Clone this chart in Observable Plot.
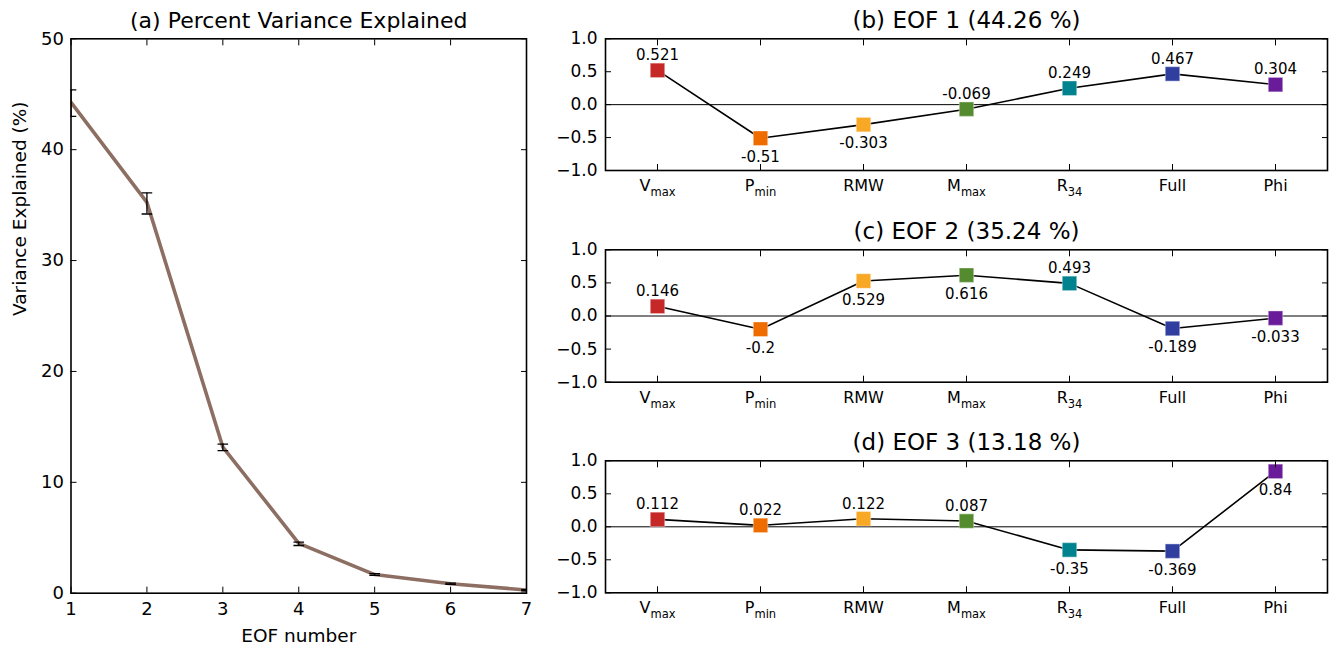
<!DOCTYPE html>
<html><head><meta charset="utf-8">
<script src="https://cdn.jsdelivr.net/npm/d3@7"></script>
<script src="https://cdn.jsdelivr.net/npm/@observablehq/plot@0.6"></script>
<style>
html,body{margin:0;padding:0;background:#fff;}
#root{position:relative;width:1332px;height:646px;overflow:hidden;font-family:"DejaVu Sans",sans-serif;}
#root > div{position:absolute;}
</style></head><body><div id="root"></div>
<script>
// ---- data ----
const eofNumbers = [1, 2, 3, 4, 5, 6, 7];
const varianceExplained = [44.26, 35.24, 13.18, 4.5, 1.68, 0.85, 0.29];
const varianceLow = [43.0, 34.2, 12.85, 4.3, 1.6, 0.8, 0.22];
const varianceHigh = [45.4, 36.1, 13.45, 4.6, 1.76, 0.9, 0.33];

const variables = ["V_max", "P_min", "RMW", "M_max", "R_34", "Full", "Phi"];
const eof1Loadings = [0.521, -0.51, -0.303, -0.069, 0.249, 0.467, 0.304];
const eof2Loadings = [0.146, -0.2, 0.529, 0.616, 0.493, -0.189, -0.033];
const eof3Loadings = [0.112, 0.022, 0.122, 0.087, -0.35, -0.369, 0.84];
const eof1LabelSide = ["above", "below", "below", "above", "above", "above", "above"];
const eof2LabelSide = ["above", "below", "below", "below", "above", "below", "below"];
const eof3LabelSide = ["above", "above", "above", "above", "below", "below", "below"];

const panelTitles = ["(a) Percent Variance Explained", "(b) EOF 1 (44.26 %)", "(c) EOF 2 (35.24 %)", "(d) EOF 3 (13.18 %)"];
const axisLabelsA = ["EOF number", "Variance Explained (%)"];
const yTicksA = [0, 10, 20, 30, 40, 50];
const yTicksLoad = [-1, -0.5, 0, 0.5, 1];

// ---- styles ----
const palette = ["#c62828", "#ef6c00", "#f9a825", "#558b2f", "#00838f", "#303f9f", "#6a1b9a"];
const lineBrown = "#8d6e63";
const FONT = "DejaVu Sans";

const root = document.getElementById("root");
function place(node, left, top) {
  const d = document.createElement("div");
  d.style.left = left + "px"; d.style.top = top + "px";
  d.appendChild(node); root.appendChild(d);
}

// ---- panel (a) ----
const varData = eofNumbers.map((n, i) => ({n, v: varianceExplained[i], lo: varianceLow[i], hi: varianceHigh[i]}));
const capData = varData.flatMap(d => [{n: d.n, e: d.lo}, {n: d.n, e: d.hi}]);
const capSymbol = {draw(ctx, size) { const w = Math.sqrt(size); ctx.moveTo(-w, 0); ctx.lineTo(w, 0); }};

const plotA = Plot.plot({
  width: 540, height: 646,
  marginLeft: 70.5, marginRight: 14, marginTop: 38.3, marginBottom: 53.3,
  style: {fontFamily: FONT, fontSize: "18px", color: "black", background: "transparent", overflow: "visible"},
  x: {domain: [1, 7], label: null},
  y: {domain: [0, 50], label: null},
  marks: [
    Plot.line(varData, {x: "n", y: "v", stroke: lineBrown, strokeWidth: 3.6, clip: true}),
    Plot.ruleX(varData, {x: "n", y1: "lo", y2: "hi", stroke: "black", strokeWidth: 1.3, clip: true}),
    Plot.dot(capData, {x: "n", y: "e", symbol: capSymbol, r: 5.3 / Math.sqrt(Math.PI), stroke: "black", strokeWidth: 1.3, fill: "none", clip: true}),
    Plot.axisX({anchor: "bottom", ticks: eofNumbers, tickFormat: d3.format("d"), tickSize: -6, tickPadding: 15, label: null}),
    Plot.axisX({anchor: "top", ticks: eofNumbers, tickSize: -6, tickFormat: () => "", label: null}),
    Plot.axisY({anchor: "left", ticks: yTicksA, tickFormat: d3.format("d"), tickSize: -6, tickPadding: 13, label: null}),
    Plot.axisY({anchor: "right", ticks: yTicksA, tickSize: -6, tickFormat: () => "", label: null}),
    Plot.frame({stroke: "black", strokeWidth: 1.6}),
    Plot.text([panelTitles[0]], {frameAnchor: "top", lineAnchor: "middle", dy: -18, fontSize: 22}),
    Plot.text([axisLabelsA[1]], {frameAnchor: "left", lineAnchor: "middle", rotate: -90, dx: -51, fontSize: 18.5}),
    Plot.text([axisLabelsA[0]], {frameAnchor: "bottom", lineAnchor: "middle", dy: 43, fontSize: 18.5})
  ]
});
place(plotA, 0, 0);

// ---- loading panels ----
function subscriptTicks(svg) {
  d3.select(svg).selectAll('g[aria-label="x-axis tick label"] text').each(function () {
    const t = this.textContent;
    const i = t.indexOf("_");
    if (i < 0) return;
    const el = d3.select(this);
    el.text(null);
    el.append("tspan").text(t.slice(0, i));
    el.append("tspan").attr("dy", 5).attr("font-size", 11.5).text(t.slice(i + 1));
  });
}

function loadingPanel(vals, sides, title, height, marginTop, marginBottom) {
  const data = variables.map((k, i) => ({k, v: vals[i], side: sides[i]}));
  const svg = Plot.plot({
    width: 792, height, marginLeft: 65, marginRight: 5, marginTop, marginBottom,
    style: {fontFamily: FONT, fontSize: "16px", color: "black", background: "transparent", overflow: "visible"},
    x: {type: "point", domain: variables, padding: 0.5, label: null},
    y: {domain: [-1, 1], label: null},
    color: {domain: variables, range: palette},
    marks: [
      Plot.ruleY([0], {stroke: "black", strokeWidth: 1}),
      Plot.line(data, {x: "k", y: "v", stroke: "black", strokeWidth: 1.6}),
      Plot.dot(data, {x: "k", y: "v", symbol: "square", r: 14.5 / Math.sqrt(Math.PI), fill: "k", stroke: "white", strokeOpacity: 0.35, strokeWidth: 1.2}),
      Plot.text(data.filter(d => d.side === "above"), {x: "k", y: "v", text: d => String(d.v), dy: -15, fontSize: 15}),
      Plot.text(data.filter(d => d.side === "below"), {x: "k", y: "v", text: d => String(d.v), dy: 19, fontSize: 15}),
      Plot.axisX({anchor: "bottom", tickSize: -6, tickPadding: 15, label: null}),
      Plot.axisX({anchor: "top", tickSize: -6, tickFormat: () => "", label: null}),
      Plot.axisY({anchor: "left", ticks: yTicksLoad, tickFormat: d3.format(".1f"), tickSize: -6, tickPadding: 14, fontSize: 17, label: null}),
      Plot.axisY({anchor: "right", ticks: yTicksLoad, tickSize: -6, tickFormat: () => "", label: null}),
      Plot.frame({stroke: "black", strokeWidth: 1.6}),
      Plot.text([title], {frameAnchor: "top", lineAnchor: "middle", dy: -18, fontSize: 23})
    ]
  });
  subscriptTicks(svg);
  return svg;
}

place(loadingPanel(eof1Loadings, eof1LabelSide, panelTitles[1], 210, 38.3, 40), 540, 0);
place(loadingPanel(eof2Loadings, eof2LabelSide, panelTitles[2], 210, 38.3, 39.3), 540, 211);
place(loadingPanel(eof3Loadings, eof3LabelSide, panelTitles[3], 223.6, 38.3, 53.3), 540, 422.4);
</script></body></html>
